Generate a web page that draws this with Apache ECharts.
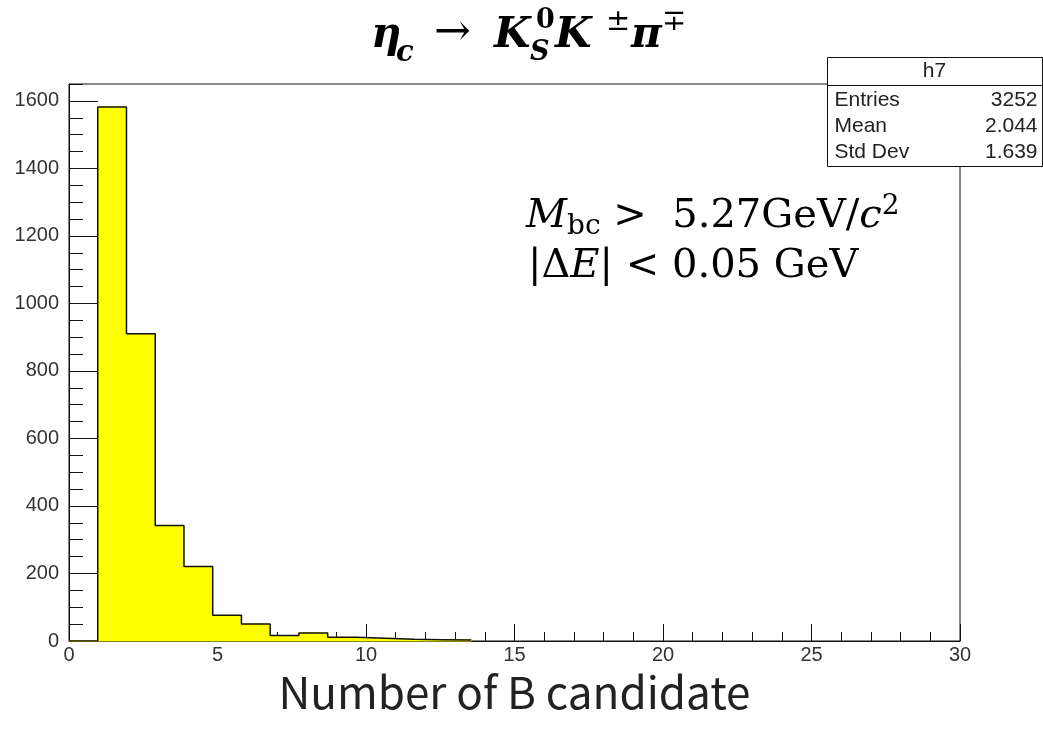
<!DOCTYPE html>
<html>
<head>
<meta charset="utf-8">
<script src="https://cdn.jsdelivr.net/npm/echarts@6/dist/echarts.min.js"></script>
<style>
  html, body { margin: 0; padding: 0; background: #fff; }
  #chart { width: 1043px; height: 733px; }
</style>
</head>
<body>
<div id="chart"></div>
<script>
  // h7 : number of B candidates per event, 31 bins on [0, 30]
  const xMin = 0
  const xMax = 30
  const nBins = 31
  const binCounts = [0, 1582, 910, 342, 221, 76, 50, 16, 24, 11, 8, 5, 4, 3]
  const yMax = 1650
  const statNames = ['Entries', 'Mean', 'Std Dev']
  const statValues = ['3252', '2.044', '1.639']

  const binWidth = (xMax - xMin) / nBins
  const bars = binCounts.map((c, i) => [xMin + i * binWidth, xMin + (i + 1) * binWidth, c])
  // step outline like ROOT draws it
  const outline = []
  binCounts.forEach((c, i) => {
    outline.push([xMin + i * binWidth, c])
    outline.push([xMin + (i + 1) * binWidth, c])
  })

  const labelFont = { fontFamily: 'Liberation Sans', fontSize: 20, color: '#333' }
  const serif = 'DejaVu Serif'
  const plain = v => String(v)

  const chart = echarts.init(document.getElementById('chart'))
  chart.setOption({
    animation: false,
    grid: {
      left: 69, right: 83, top: 84, bottom: 92,
      show: true, borderColor: '#111', borderWidth: 1, backgroundColor: '#fff'
    },
    xAxis: {
      type: 'value', min: xMin, max: xMax, interval: 5,
      name: 'Number of B candidate',
      nameLocation: 'middle', nameGap: 25,
      nameTextStyle: { fontFamily: 'Noto Sans CJK JP', fontSize: 44, color: '#222' },
      axisLine: { lineStyle: { color: '#111', width: 1 } },
      axisTick: { inside: true, length: 17, lineStyle: { color: '#111' } },
      minorTick: { show: true, splitNumber: 5, length: 9, lineStyle: { color: '#111' } },
      axisLabel: Object.assign({ margin: 4, formatter: plain }, labelFont),
      splitLine: { show: false }
    },
    yAxis: [
      {
        // minor ticks every 50
        type: 'value', min: 0, max: yMax, interval: 50,
        axisLine: { show: true, lineStyle: { color: '#111' } },
        axisTick: { inside: true, length: 14, lineStyle: { color: '#111' } },
        axisLabel: { show: false },
        splitLine: { show: false }
      },
      {
        type: 'value', min: 0, max: yMax, interval: 200, position: 'left',
        axisLine: { show: true, lineStyle: { color: '#111' } },
        axisTick: { inside: true, length: 29, lineStyle: { color: '#111' } },
        axisLabel: Object.assign({ margin: 10, showMaxLabel: false, formatter: plain }, labelFont),
        splitLine: { show: false }
      }
    ],
    series: [
      {
        type: 'custom',
        yAxisIndex: 1,
        data: bars,
        encode: { x: [0, 1], y: 2 },
        renderItem: function(params, api) {
          const p0 = api.coord([api.value(0), api.value(2)])
          const p1 = api.coord([api.value(1), 0])
          return {
            type: 'rect',
            shape: { x: p0[0], y: p0[1], width: p1[0] - p0[0], height: p1[1] - p0[1] },
            style: { fill: '#ffff00', stroke: '#ffff00', lineWidth: 1 }
          }
        },
        z: 1
      },
      {
        type: 'line',
        yAxisIndex: 1,
        data: outline,
        symbol: 'none',
        lineStyle: { color: '#111', width: 1.5 },
        z: 3
      }
    ],
    graphic: [
      // title  eta_c -> K0S K+- pi-+
      { type: 'text', left: 371, top: 15, style: { text: 'η', font: 'bold italic 42px ' + serif, fill: '#000' } },
      { type: 'text', left: 396, top: 39, style: { text: 'c', font: 'bold italic 29px ' + serif, fill: '#000' } },
      { type: 'text', left: 434, top: 12, style: { text: '→', font: '44px ' + serif, fill: '#000' } },
      { type: 'text', left: 494, top: 15, style: { text: 'K', font: 'bold italic 42px ' + serif, fill: '#000' } },
      { type: 'text', left: 530, top: 39, style: { text: 'S', font: 'bold italic 27px ' + serif, fill: '#000' } },
      { type: 'text', left: 536, top: 7, style: { text: '0', font: 'bold 27px ' + serif, fill: '#000' } },
      { type: 'text', left: 555, top: 15, style: { text: 'K', font: 'bold italic 42px ' + serif, fill: '#000' } },
      { type: 'text', left: 606, top: 8, style: { text: '±', font: '29px ' + serif, fill: '#000' } },
      { type: 'text', left: 631, top: 15, style: { text: 'π', font: 'bold italic 42px ' + serif, fill: '#000' } },
      { type: 'text', left: 662, top: 8, style: { text: '∓', font: '29px ' + serif, fill: '#000' } },
      // selection cuts
      {
        type: 'text', left: 526, top: 193,
        style: {
          text: '{i|M}{sub|bc}{n| >  5.27GeV/}{i|c}{sup|2}',
          rich: {
            i: { fontFamily: serif, fontStyle: 'italic', fontSize: 40, lineHeight: 48 },
            n: { fontFamily: serif, fontSize: 40, lineHeight: 48 },
            sub: { fontFamily: serif, fontSize: 28, lineHeight: 28, verticalAlign: 'bottom' },
            sup: { fontFamily: serif, fontSize: 28, lineHeight: 28, verticalAlign: 'top' }
          }
        }
      },
      {
        type: 'text', left: 528, top: 247,
        style: {
          text: '{n||Δ}{i|E}{n|| < 0.05 GeV}',
          rich: {
            i: { fontFamily: serif, fontStyle: 'italic', fontSize: 40, lineHeight: 48 },
            n: { fontFamily: serif, fontSize: 40, lineHeight: 48 }
          }
        }
      },
      // stats box
      {
        type: 'group', left: 825, top: 57, z: 100,
        children: [
          { type: 'rect', shape: { x: 0, y: 0, width: 215, height: 109 }, style: { fill: '#fff', stroke: '#111', lineWidth: 1 } },
          { type: 'line', shape: { x1: 0, y1: 28, x2: 215, y2: 28 }, style: { stroke: '#111', lineWidth: 1 } },
          { type: 'text', x: 107, y: 14, style: { text: 'h7', font: '21px Liberation Sans', fill: '#222', align: 'center', verticalAlign: 'middle' } }
        ].concat(statNames.map((s, i) => ({
          type: 'text', x: 7, y: 43 + i * 26,
          style: { text: s, font: '21px Liberation Sans', fill: '#222', verticalAlign: 'middle' }
        }))).concat(statValues.map((s, i) => ({
          type: 'text', x: 210, y: 43 + i * 26,
          style: { text: s, font: '21px Liberation Sans', fill: '#222', align: 'right', verticalAlign: 'middle' }
        })))
      }
    ]
  })
</script>
</body>
</html>
